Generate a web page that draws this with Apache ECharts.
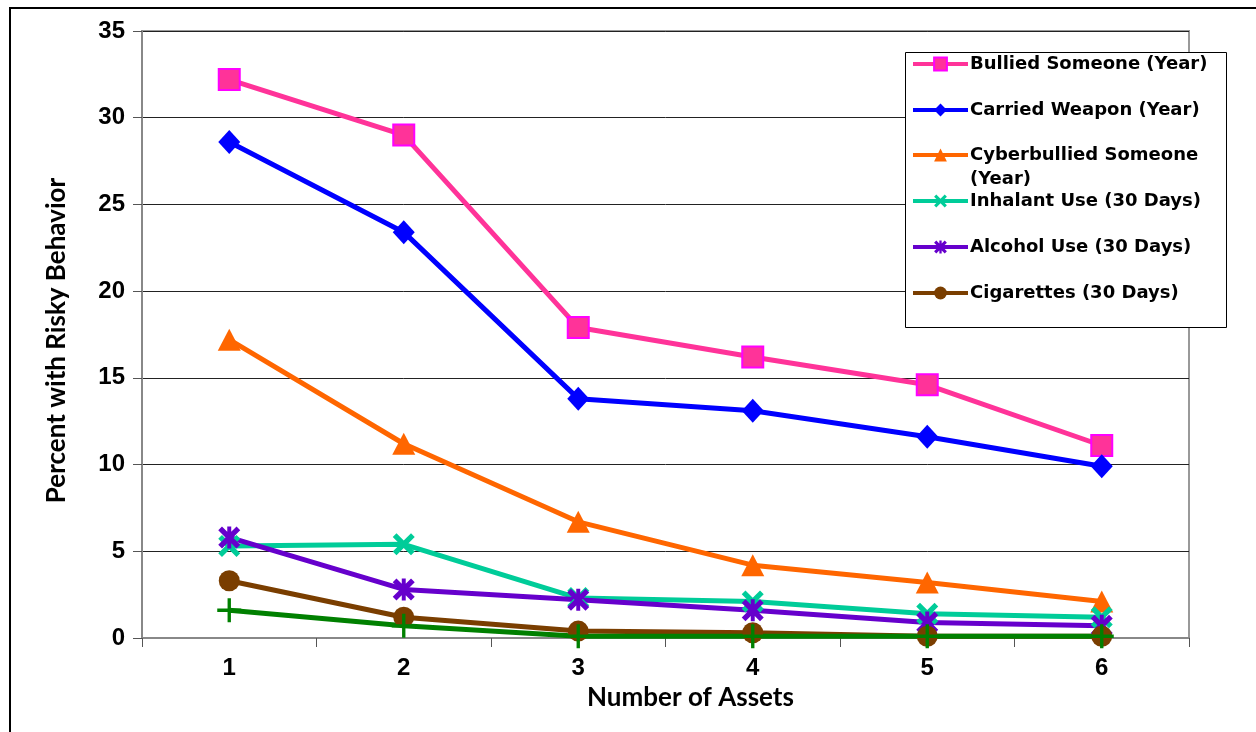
<!DOCTYPE html>
<html>
<head>
<meta charset="utf-8">
<script src="https://cdn.jsdelivr.net/npm/echarts@6/dist/echarts.min.js"></script>
<style>
  html, body { margin: 0; padding: 0; background: #fff; }
  #chart { width: 1256px; height: 732px; }
</style>
</head>
<body>
<div id="chart"></div>
<script>
// Number of assets on the x axis
const assets = ['1', '2', '3', '4', '5', '6'];

// Percent of students reporting each behavior
const bulliedSomeone = [32.2, 29.0, 17.9, 16.2, 14.6, 11.1];
const carriedWeapon = [28.6, 23.4, 13.8, 13.1, 11.6, 9.9];
const cyberbullied = [17.2, 11.2, 6.7, 4.2, 3.2, 2.1];
const inhalantUse = [5.3, 5.4, 2.3, 2.1, 1.4, 1.2];
const alcoholUse = [5.8, 2.8, 2.2, 1.6, 0.9, 0.7];
const cigarettes = [3.3, 1.2, 0.4, 0.3, 0.1, 0.1];
const otherUse = [1.6, 0.7, 0.1, 0.1, 0.1, 0.1];

const seriesNames = [
  'Bullied Someone (Year)',
  'Carried Weapon (Year)',
  'Cyberbullied Someone (Year)',
  'Inhalant Use (30 Days)',
  'Alcohol Use (30 Days)',
  'Cigarettes (30 Days)',
  'Other Use (30 Days)'
];

// Marker shapes drawn as filled paths
const X_PATH = 'path://M0,1.7 L1.7,0 L5,3.3 L8.3,0 L10,1.7 L6.7,5 L10,8.3 L8.3,10 L5,6.7 L1.7,10 L0,8.3 L3.3,5 Z';
const STAR_PATH = 'path://M0,1.7 L1.7,0 L5,3.3 L8.3,0 L10,1.7 L6.7,5 L10,8.3 L8.3,10 L5,6.7 L1.7,10 L0,8.3 L3.3,5 Z M4.1,0 L5.9,0 L5.9,10 L4.1,10 Z';
const PLUS_PATH = 'path://M4.3,0 L5.7,0 L5.7,4.3 L10,4.3 L10,5.7 L5.7,5.7 L5.7,10 L4.3,10 L4.3,5.7 L0,5.7 L0,4.3 L4.3,4.3 Z';

const LINE_W = 5;

function lineSeries(name, data, color, symbol, size, extraItem) {
  return {
    name: name,
    type: 'line',
    data: data,
    symbol: symbol,
    symbolSize: size,
    showSymbol: true,
    showAllSymbol: true,
    lineStyle: { color: color, width: LINE_W },
    itemStyle: Object.assign({ color: color, borderWidth: 0 }, extraItem || {}),
    emphasis: { disabled: true },
    z: 2
  };
}

const series = [
  lineSeries(seriesNames[0], bulliedSomeone, '#FF3399', 'rect', 21, { borderColor: '#FF00FF', borderWidth: 2 }),
  lineSeries(seriesNames[1], carriedWeapon, '#0000FF', 'diamond', [22, 24]),
  lineSeries(seriesNames[2], cyberbullied, '#FF6600', 'triangle', [23, 22]),
  lineSeries(seriesNames[3], inhalantUse, '#00CC99', X_PATH, 22),
  lineSeries(seriesNames[4], alcoholUse, '#6600CC', STAR_PATH, 22),
  lineSeries(seriesNames[5], cigarettes, '#7A3E00', 'circle', 21),
  lineSeries(seriesNames[6], otherUse, '#008000', PLUS_PATH, 24)
];

// Legend rows: one legend per entry so each row sits at its own height
const legendRowsY = [64, 110, 155, 201, 247, 293];
const ROW_H = 24;
const legendFont = {
  fontFamily: 'DejaVu Sans',
  fontWeight: 'bold',
  fontSize: 18,
  color: '#000',
  lineHeight: ROW_H
};
const legends = legendRowsY.map(function (cy, i) {
  const multi = i === 2;
  return {
    show: true,
    orient: 'vertical',
    left: 911,
    top: multi ? cy - ROW_H * 1.5 : cy - ROW_H / 2,
    padding: 0,
    itemWidth: 55,
    itemHeight: 16,
    itemGap: 0,
    selectedMode: false,
    lineStyle: { width: 4 },
    data: [seriesNames[i]],
    formatter: multi ? function () { return '\u00a0\nCyberbullied Someone\n(Year)'; } : undefined,
    textStyle: Object.assign({ padding: [0, 0, 0, -3] }, legendFont),
    z: 5
  };
});

const axisLabelFont = { fontFamily: 'Liberation Sans', fontWeight: 'bold', fontSize: 24, color: '#000' };
const axisNameFont = { fontFamily: 'Lato', fontWeight: 'bold', fontSize: 26, color: '#000' };

const chart = echarts.init(document.getElementById('chart'), null, { renderer: 'canvas' });

chart.setOption({
  animation: false,
  backgroundColor: '#fff',
  grid: {
    left: 142,
    top: 31,
    right: 67,
    bottom: 94,
    show: true,
    borderColor: '#999',
    borderWidth: 2,
    backgroundColor: 'transparent'
  },
  legend: legends,
  xAxis: {
    type: 'category',
    data: assets,
    boundaryGap: true,
    name: 'Number of Assets',
    nameLocation: 'middle',
    nameGap: 46,
    nameTextStyle: Object.assign({ padding: [0, 0, 0, 50] }, axisNameFont),
    axisLine: { show: true, lineStyle: { color: '#888', width: 2 } },
    axisTick: { show: true, alignWithLabel: false, length: 9, lineStyle: { color: '#555', width: 1 } },
    axisLabel: Object.assign({ margin: 18 }, axisLabelFont),
    splitLine: { show: false }
  },
  yAxis: {
    type: 'value',
    min: 0,
    max: 35,
    interval: 5,
    name: 'Percent with Risky Behavior',
    nameLocation: 'middle',
    nameRotate: 90,
    nameGap: 72,
    nameTextStyle: Object.assign({ padding: [0, 12, 0, 0] }, axisNameFont),
    axisLine: { show: true, lineStyle: { color: '#888', width: 2 } },
    axisTick: { show: true, inside: false, length: 9, lineStyle: { color: '#555', width: 1 } },
    axisLabel: Object.assign({ margin: 17 }, axisLabelFont),
    splitLine: { show: true, lineStyle: { color: '#222', width: 1 } }
  },
  graphic: [
    {
      // outer frame of the figure
      type: 'rect',
      silent: true,
      z: 10,
      shape: { x: 10, y: 8, width: 1300, height: 800 },
      style: { fill: null, stroke: '#000', lineWidth: 2 }
    },
    {
      // legend box
      type: 'rect',
      silent: true,
      z: 3,
      shape: { x: 905.5, y: 52.5, width: 321, height: 275 },
      style: { fill: '#fff', stroke: '#000', lineWidth: 1 }
    }
  ],
  series: series
});
</script>
</body>
</html>
